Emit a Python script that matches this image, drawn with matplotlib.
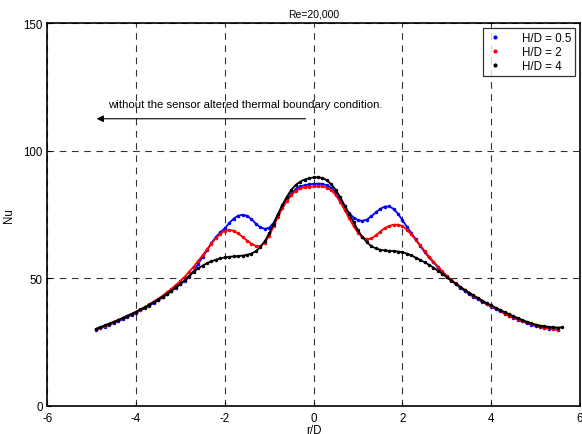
import numpy as np
import matplotlib
matplotlib.use("Agg")
import matplotlib.pyplot as plt
from matplotlib.lines import Line2D

plt.rcParams['font.family'] = ['Liberation Sans', 'DejaVu Sans']
plt.rcParams['axes.unicode_minus'] = False

# r/D sampling: starts at -4.9, step 0.1
r_start = -4.9
r_step = 0.1

nu_h05 = [
    29.8, 30.4, 31.1, 31.8, 32.5, 33.2, 34.0, 34.8, 35.6, 36.5,
    37.4, 38.3, 39.3, 40.3, 41.4, 42.5, 43.7, 45.0, 46.4, 47.8,
    48.9, 50.6, 52.9, 55.6, 58.3, 61.0, 63.8, 66.2, 68.0, 69.6,
    71.6, 73.4, 74.5, 74.9, 74.5, 73.2, 71.4, 70.0, 69.4, 69.8,
    71.8, 75.0, 78.5, 81.0, 83.2, 85.0, 86.0, 86.5, 86.8, 87.0,
    87.1, 87.0, 86.4, 85.4, 83.5, 80.8, 78.2, 75.6, 73.8, 72.8,
    72.5, 73.0, 74.3, 75.8, 77.2, 78.1, 78.2, 77.2, 75.3, 72.8,
    70.2, 67.8, 65.3, 62.8, 60.3, 58.2, 56.3, 54.3, 52.3, 50.5,
    49.2, 47.8, 46.4, 45.1, 43.9, 42.8, 41.8, 40.8, 39.8, 38.9,
    38.0, 37.1, 36.2, 35.4, 34.6, 33.8, 33.1, 32.4, 31.8, 31.3,
    30.9, 30.6, 30.3, 30.1, 29.9,
]

nu_h2 = [
    30.1, 30.7, 31.4, 32.1, 32.8, 33.5, 34.3, 35.1, 35.9, 36.8,
    37.7, 38.7, 39.8, 40.9, 42.0, 43.2, 44.5, 45.9, 47.4, 49.0,
    50.7, 52.6, 54.6, 56.8, 59.0, 61.3, 63.6, 65.7, 67.5, 68.6,
    69.0, 68.6, 67.6, 66.2, 64.8, 63.6, 62.7, 62.6, 64.0, 66.6,
    70.4, 74.2, 77.6, 80.3, 82.6, 84.3, 85.2, 85.7, 85.9, 86.0,
    86.1, 86.0, 85.5, 84.5, 82.6, 79.8, 76.8, 73.5, 70.5, 67.8,
    66.1, 65.3, 65.6, 66.8, 68.3, 69.6, 70.5, 71.0, 71.0, 70.5,
    69.0, 67.2, 65.0, 62.9, 60.7, 58.5, 56.5, 54.6, 52.7, 51.0,
    49.4, 48.0, 46.7, 45.5, 44.3, 43.2, 42.1, 41.1, 40.1, 39.2,
    38.3, 37.4, 36.5, 35.7, 34.9, 34.1, 33.4, 32.7, 32.1, 31.6,
    31.1, 30.7, 30.4, 30.1, 29.9,
]

nu_h4 = [
    30.2, 30.9, 31.6, 32.3, 33.0, 33.7, 34.5, 35.3, 36.1, 36.9,
    37.8, 38.7, 39.7, 40.7, 41.7, 42.8, 44.0, 45.2, 46.5, 47.8,
    49.3, 51.0, 52.6, 53.9, 55.0, 55.9, 56.7, 57.3, 57.8, 58.2,
    58.4, 58.6, 58.7, 58.9, 59.2, 59.7, 60.6, 62.2, 64.5, 67.6,
    71.3, 75.2, 78.9, 82.0, 84.7, 86.6, 87.9, 88.7, 89.2, 89.5,
    89.6, 89.3, 88.4, 86.8, 84.6, 81.8, 78.5, 75.2, 72.0, 68.8,
    66.2, 64.1, 62.6, 61.7, 61.2, 60.9, 60.8, 60.7, 60.5, 60.2,
    59.7, 59.0, 58.1, 57.2, 56.3, 55.3, 54.2, 53.0, 51.8, 50.4,
    49.1, 47.9, 46.7, 45.5, 44.4, 43.3, 42.3, 41.3, 40.3, 39.4,
    38.5, 37.6, 36.8, 36.0, 35.2, 34.4, 33.7, 33.0, 32.4, 31.9,
    31.5, 31.2, 31.0, 30.8, 30.7, 30.8,
]

series = [
    ("H/D = 0.5", nu_h05, "#0000ff"),
    ("H/D = 2", nu_h2, "#ff0000"),
    ("H/D = 4", nu_h4, "#000000"),
]

fig = plt.figure(figsize=(5.82, 4.35), dpi=100)
ax = fig.add_axes([0.081, 0.0644, 0.9156, 0.8804])

handles = []
for label, nu, color in series:
    r = np.round(r_start + r_step * np.arange(len(nu)), 2)
    ax.plot(r, nu, "-", color=color, lw=1.3)
    ax.plot(r, nu, ".", color=color, ms=3)
    handles.append(Line2D([], [], ls="none", marker=".", color=color, ms=4, label=label))

ax.set_xlim(-6, 6)
ax.set_ylim(0, 150)
ax.set_xticks([-6, -4, -2, 0, 2, 4, 6])
ax.set_yticks([0, 50, 100, 150])
ax.grid(True, color="black", ls=(0, (6, 5)), lw=0.8, alpha=0.8)
ax.set_axisbelow(True)
ax.tick_params(direction="in", length=3, labelsize=8.3, width=0.8)
ax.tick_params(axis="x", pad=4)
ax.tick_params(axis="y", pad=3)
for s in ax.spines.values():
    s.set_linewidth(1.2)

ax.set_title("Re=20,000", fontsize=7.5, pad=5)
ax.set_xlabel("r/D", fontsize=8.3, labelpad=0)
ax.set_ylabel("Nu", fontsize=8.3, labelpad=6)

ax.text(-4.64, 118.3, "without the sensor altered thermal boundary condition.",
        fontsize=8.2, va="center", ha="left")
ax.annotate("", xy=(-4.95, 112.5), xytext=(-0.12, 112.5),
            arrowprops=dict(arrowstyle="-|>", color="black", lw=0.8,
                            mutation_scale=10))

leg = ax.legend(handles=handles, loc="upper right", fontsize=8.3,
                frameon=True, fancybox=False, edgecolor="black",
                borderaxespad=0.45, handlelength=1.5, handletextpad=1.6,
                labelspacing=0.2, borderpad=0.3)
leg.get_frame().set_linewidth(0.9)

fig.savefig("out.png", dpi=100)
